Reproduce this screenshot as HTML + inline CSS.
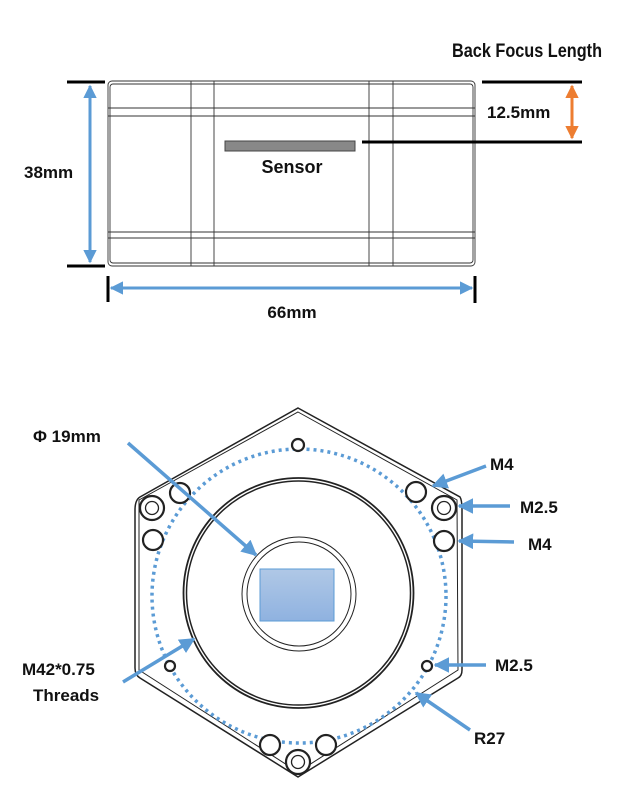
<!DOCTYPE html>
<html><head><meta charset="utf-8"><style>
html,body{margin:0;padding:0;background:#fff;}
svg{display:block;}
text{font-family:"Liberation Sans",sans-serif;font-weight:bold;fill:#111;}
</style></head><body>
<svg width="617" height="788" viewBox="0 0 617 788" xmlns="http://www.w3.org/2000/svg">
<defs>
<marker id="ab" viewBox="0 0 10 10" refX="9" refY="5" markerWidth="4.5" markerHeight="4.5" orient="auto-start-reverse"><path d="M0,0 L10,5 L0,10 z" fill="#5b9bd5"/></marker>
<marker id="ao" viewBox="0 0 10 10" refX="9" refY="5" markerWidth="4.5" markerHeight="4.5" orient="auto-start-reverse"><path d="M0,0 L10,5 L0,10 z" fill="#ed7d31"/></marker>
<linearGradient id="g" x1="0" y1="0" x2="0" y2="1"><stop offset="0" stop-color="#b0c8e6"/><stop offset="1" stop-color="#8fb2e0"/></linearGradient>
</defs>
<!-- side view -->
<g fill="none" stroke="#333" stroke-width="0.9">
<rect x="108" y="81" width="367" height="185" rx="4"/>
<rect x="110" y="84" width="363" height="179" rx="3"/>
<line x1="108" y1="108" x2="475" y2="108"/>
<line x1="108" y1="116" x2="475" y2="116"/>
<line x1="108" y1="232" x2="475" y2="232"/>
<line x1="108" y1="238" x2="475" y2="238"/>
<line x1="191" y1="81" x2="191" y2="266"/>
<line x1="214" y1="81" x2="214" y2="266"/>
<line x1="369" y1="81" x2="369" y2="266"/>
<line x1="393" y1="81" x2="393" y2="266"/>
</g>
<rect x="225" y="141" width="130" height="10" fill="#888" stroke="#444" stroke-width="1"/>
<text x="292" y="173" font-size="18" text-anchor="middle">Sensor</text>
<line x1="67" y1="82" x2="105" y2="82" stroke="#000" stroke-width="3"/>
<line x1="67" y1="266" x2="105" y2="266" stroke="#000" stroke-width="3"/>
<line x1="90" y1="86" x2="90" y2="262" stroke="#5b9bd5" stroke-width="3" marker-start="url(#ab)" marker-end="url(#ab)"/>
<text x="24" y="178" font-size="17">38mm</text>
<line x1="108" y1="276" x2="108" y2="302" stroke="#000" stroke-width="3"/>
<line x1="475" y1="276" x2="475" y2="303" stroke="#000" stroke-width="3"/>
<line x1="111" y1="288" x2="472" y2="288" stroke="#5b9bd5" stroke-width="3" marker-start="url(#ab)" marker-end="url(#ab)"/>
<text x="292" y="318" font-size="17" text-anchor="middle">66mm</text>
<line x1="482" y1="82" x2="582" y2="82" stroke="#000" stroke-width="3"/>
<line x1="362" y1="142" x2="582" y2="142" stroke="#000" stroke-width="3"/>
<line x1="572" y1="86" x2="572" y2="138" stroke="#ed7d31" stroke-width="3" marker-start="url(#ao)" marker-end="url(#ao)"/>
<text x="487" y="118" font-size="17">12.5mm</text>
<text x="452" y="57" font-size="19" style="font-family:'Liberation Sans Narrow','Liberation Sans',sans-serif" textLength="150" lengthAdjust="spacingAndGlyphs">Back Focus Length</text>
<!-- front view -->
<g fill="none" stroke="#222" stroke-width="1.5">
<path d="M298,408 L460,497 Q462,500 462,510 L462,670 Q462,676 458,678 L298,777 L140,678 Q135,675 135,668 L135,510 Q135,500 140,497 Z"/>
<path d="M298,412 L457,500 L458,670 L298,772 L139,670 L139,510 L139,500 Z" stroke-width="1"/>
<circle cx="298.5" cy="593" r="115" stroke-width="1.8"/>
<circle cx="298.5" cy="593" r="112"/>
<circle cx="299" cy="594" r="57" stroke-width="1"/>
<circle cx="299" cy="594" r="52" stroke-width="1"/>
</g>
<circle cx="299" cy="596" r="147" fill="none" stroke="#5b9bd5" stroke-width="3.5" stroke-dasharray="3 4"/>
<rect x="260" y="569" width="74" height="52" fill="url(#g)" stroke="#5b9bd5" stroke-width="1"/>
<g fill="#fff" stroke="#222" stroke-width="2.2">
<circle cx="298" cy="445" r="6"/>
<circle cx="180" cy="493" r="10"/>
<circle cx="152" cy="508" r="12"/><circle cx="152" cy="508" r="6.5" stroke-width="1.3"/>
<circle cx="153" cy="540" r="10"/>
<circle cx="416" cy="492" r="10"/>
<circle cx="444" cy="508" r="12"/><circle cx="444" cy="508" r="6.5" stroke-width="1.3"/>
<circle cx="444" cy="541" r="10"/>
<circle cx="170" cy="666" r="5"/>
<circle cx="427" cy="666" r="5"/>
<circle cx="270" cy="745" r="10"/>
<circle cx="326" cy="745" r="10"/>
<circle cx="298" cy="762" r="12"/><circle cx="298" cy="762" r="6.5" stroke-width="1.3"/>
</g>
<g stroke="#5b9bd5" stroke-width="3.5" fill="none">
<line x1="128" y1="443" x2="256" y2="555" marker-end="url(#ab)"/>
<line x1="123" y1="682" x2="194" y2="639" marker-end="url(#ab)"/>
<line x1="486" y1="466" x2="433" y2="486" marker-end="url(#ab)"/>
<line x1="510" y1="506" x2="459" y2="506" marker-end="url(#ab)"/>
<line x1="514" y1="542" x2="459" y2="541" marker-end="url(#ab)"/>
<line x1="486" y1="665" x2="435" y2="665" marker-end="url(#ab)"/>
<line x1="470" y1="730" x2="416" y2="693" marker-end="url(#ab)"/>
</g>
<text x="33" y="442" font-size="17">Φ 19mm</text>
<text x="22" y="675" font-size="17">M42*0.75</text>
<text x="33" y="701" font-size="17">Threads</text>
<text x="490" y="470" font-size="17">M4</text>
<text x="520" y="513" font-size="17">M2.5</text>
<text x="528" y="550" font-size="17">M4</text>
<text x="495" y="671" font-size="17">M2.5</text>
<text x="474" y="744" font-size="17">R27</text>
</svg>
</body></html>
